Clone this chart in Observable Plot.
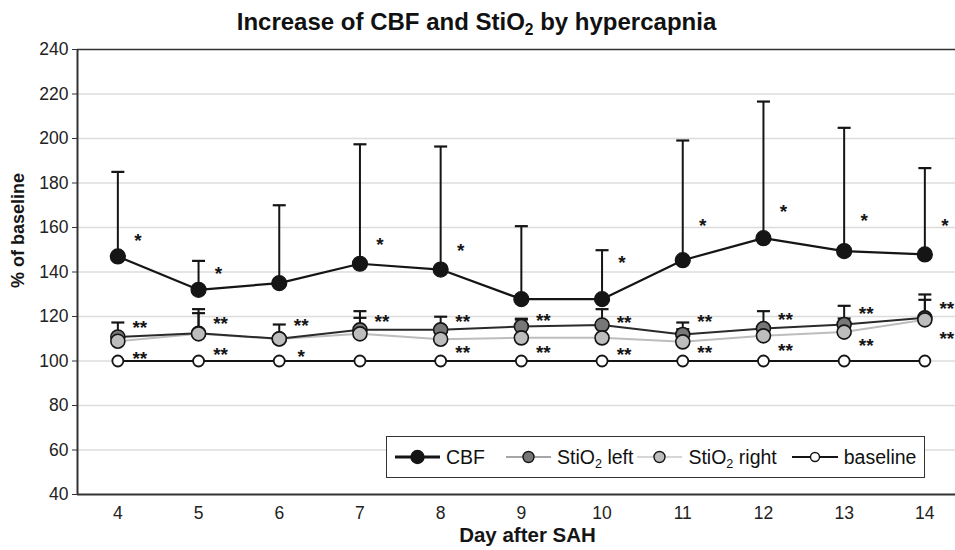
<!DOCTYPE html>
<html>
<head>
<meta charset="utf-8">
<script src="https://cdn.jsdelivr.net/npm/d3@7"></script>
<script src="https://cdn.jsdelivr.net/npm/@observablehq/plot@0.6"></script>
<style>
  body { margin: 0; background: #fff; font-family: "Liberation Sans", Arial, sans-serif; }
  #wrap { position: relative; width: 955px; height: 550px; }
  #title { height: 40px; line-height: 44px; text-align: center; font-weight: bold; font-size: 24px; color: #111; padding-right: 2px; }
  #title sub, .leg sub { font-size: 65%; vertical-align: -0.35em; line-height: 0; }
  #legend { position: absolute; left: 386px; top: 436px; height: 40px; border: 1.5px solid #333; background: #fff;
            display: flex; align-items: center; font-size: 19.5px; color: #111; padding-left: 8px; padding-right: 8px; }
  .leg { display: flex; align-items: center; white-space: nowrap; }
  .leg svg { display: block; }
</style>
</head>
<body>
<div id="wrap">
  <div id="title">Increase of CBF and StiO<sub>2</sub> by hypercapnia</div>
  <div id="chart"></div>
  <div id="legend"></div>
</div>
<script>
const days = [4, 5, 6, 7, 8, 9, 10, 11, 12, 13, 14];
const cbf =      [147, 132, 135, 143.7, 141.1, 127.8, 127.8, 145.3, 155.2, 149.4, 147.9];
const cbfUpper = [185, 145, 170, 197.4, 196.4, 160.6, 149.8, 199.1, 216.6, 204.8, 186.7];
const stiLeft =      [110.8, 112.5, 110, 114, 114, 115.5, 116.2, 111.9, 114.6, 116.4, 119.4];
const stiLeftUpper = [117.3, 123.3, 116.4, 122.4, 119.9, 119, 123.3, 117.3, 122.4, 124.8, 129.9];
const stiRight =      [108.9, 112.2, 109.9, 112.2, 109.8, 110.4, 110.4, 108.6, 111.3, 113, 118.5];
const stiRightUpper = [null, 121.5, null, 119.4, null, 118.6, null, 114.3, null, 119.1, 127.5];
const baseline = [100, 100, 100, 100, 100, 100, 100, 100, 100, 100, 100];

const cbfStars =    ["*", "*", "", "*", "*", "", "*", "*", "*", "*", "*"];
const cbfStarY =    [156.4, 141.4, null, 154.5, 151.9, null, 146.4, 162.8, 169.4, 165, 162.8];
const leftStars =   ["**", "**", "**", "**", "**", "**", "**", "**", "**", "**", "**"];
const leftStarY =   [117.3, 119, 118, 120, 120, 120.3, 119.4, 120, 120.9, 123.3, 125.7];
const lowerStars =  ["**", "**", "*", "", "**", "**", "**", "**", "**", "**", "**"];
const lowerStarY =  [103.3, 105, 104, null, 106.1, 106.1, 105.2, 105.8, 106.7, 109.1, 112.2];

const yTicks = [40, 60, 80, 100, 120, 140, 160, 180, 200, 220, 240];

const rows = days.map((d, i) => ({
  day: d, cbf: cbf[i], cbfUp: cbfUpper[i], left: stiLeft[i], leftUp: stiLeftUpper[i],
  right: stiRight[i], rightUp: stiRightUpper[i], base: baseline[i],
  s1: cbfStars[i], s1y: cbfStarY[i], s2: leftStars[i], s2y: leftStarY[i], s3: lowerStars[i], s3y: lowerStarY[i]
}));

const cap = { draw(ctx) { ctx.moveTo(-6.5, 0); ctx.lineTo(6.5, 0); } };
const dark = "#151515";

function errBars(key, upKey) {
  const data = rows.filter(r => r[upKey] != null);
  return [
    Plot.ruleX(data, { x: "day", y1: key, y2: upKey, stroke: dark, strokeWidth: 2 }),
    Plot.dot(data, { x: "day", y: upKey, symbol: cap, stroke: dark, strokeWidth: 2.2, fill: "none", r: 6 })
  ];
}

const starFont = { fontSize: 19, fontWeight: "bold", fill: dark, fontFamily: "Liberation Sans, Arial, sans-serif" };

const plot = Plot.plot({
  width: 955,
  height: 510,
  marginLeft: 77,
  marginRight: 0,
  marginTop: 9,
  marginBottom: 56,
  style: { fontFamily: "Liberation Sans, Arial, sans-serif", fontSize: "17.5px", color: "#222", overflow: "visible" },
  x: { type: "linear", domain: [3.5, 3.5 + 878 / 80.7], range: [77, 955] },
  y: { domain: [40, 240] },
  marks: [
    Plot.gridY(yTicks.filter(t => t > 40 && t < 240), { stroke: "#dcdcdc", strokeOpacity: 1, strokeWidth: 1.5 }),
    Plot.ruleY([240], { stroke: "#333", strokeWidth: 1.5 }),
    Plot.ruleY([40], { stroke: "#333", strokeWidth: 2 }),
    Plot.ruleX([3.5], { y1: 40, y2: 240, stroke: "#333", strokeWidth: 2 }),
    Plot.axisY(yTicks, { tickSize: 5, tickPadding: 4, label: null, stroke: "#333", fontSize: 17.5 }),
    Plot.axisX(days, { tickSize: 0, tickPadding: 12, label: null, fontSize: 17.5 }),
    Plot.text(["Day after SAH"], { frameAnchor: "bottom", dx: 11, dy: 47, fontSize: 20.5, fontWeight: "bold", fill: dark }),
    Plot.text(["% of baseline"], { frameAnchor: "left", textAnchor: "middle", dx: -59, dy: -41.5, rotate: -90, fontSize: 18, fontWeight: "bold", fill: dark }),
    ...errBars("cbf", "cbfUp"),
    ...errBars("right", "rightUp"),
    ...errBars("left", "leftUp"),
    Plot.line(rows, { x: "day", y: "base", stroke: dark, strokeWidth: 2.2 }),
    Plot.line(rows, { x: "day", y: "right", stroke: "#bdbdbd", strokeWidth: 2 }),
    Plot.line(rows, { x: "day", y: "left", stroke: "#2a2a2a", strokeWidth: 2 }),
    Plot.line(rows, { x: "day", y: "cbf", stroke: dark, strokeWidth: 2.2 }),
    Plot.dot(rows, { x: "day", y: "base", r: 5.5, fill: "#fff", stroke: dark, strokeWidth: 1.8 }),
    Plot.dot(rows, { x: "day", y: "left", r: 7, fill: "#777", stroke: dark, strokeWidth: 1.6 }),
    Plot.dot(rows, { x: "day", y: "right", r: 7, fill: "#bdbdbd", stroke: dark, strokeWidth: 1.6 }),
    Plot.dot(rows, { x: "day", y: "cbf", r: 7.5, fill: dark, stroke: dark, strokeWidth: 1.2 }),
    Plot.text(rows.filter(r => r.s1), { x: "day", y: "s1y", text: "s1", dx: 20, dy: 5, ...starFont }),
    Plot.text(rows.filter(r => r.s2), { x: "day", y: "s2y", text: "s2", dx: 22, dy: 5, ...starFont }),
    Plot.text(rows.filter(r => r.s3), { x: "day", y: "s3y", text: "s3", dx: 22, dy: 5, ...starFont })
  ]
});
document.getElementById("chart").appendChild(plot);

// legend
const legendItems = [
  { html: "CBF", line: dark, lw: 3, fill: dark, r: 6.5, lineW: 45, gapAfter: 21 },
  { html: "StiO<sub>2</sub> left", line: "#888", lw: 1.5, fill: "#777", r: 5.5, lineW: 45, gapAfter: 4 },
  { html: "StiO<sub>2</sub> right", line: "#c8c8c8", lw: 1.5, fill: "#bdbdbd", r: 5.5, lineW: 45, gapAfter: 15 },
  { html: "baseline", line: dark, lw: 1.8, fill: "#fff", r: 4.5, lineW: 46, gapAfter: 0 }
];
const leg = document.getElementById("legend");
for (const it of legendItems) {
  const el = document.createElement("div");
  el.className = "leg";
  el.style.marginRight = it.gapAfter + "px";
  const w = it.lineW, h = 20;
  el.innerHTML = `<svg width="${w}" height="${h}"><line x1="0" x2="${w}" y1="${h/2}" y2="${h/2}" stroke="${it.line}" stroke-width="${it.lw}"/>` +
    `<circle cx="${w/2}" cy="${h/2}" r="${it.r}" fill="${it.fill}" stroke="${dark}" stroke-width="1.4"/></svg>` +
    `<span style="margin-left:6px">${it.html}</span>`;
  leg.appendChild(el);
}
</script>
</body>
</html>
